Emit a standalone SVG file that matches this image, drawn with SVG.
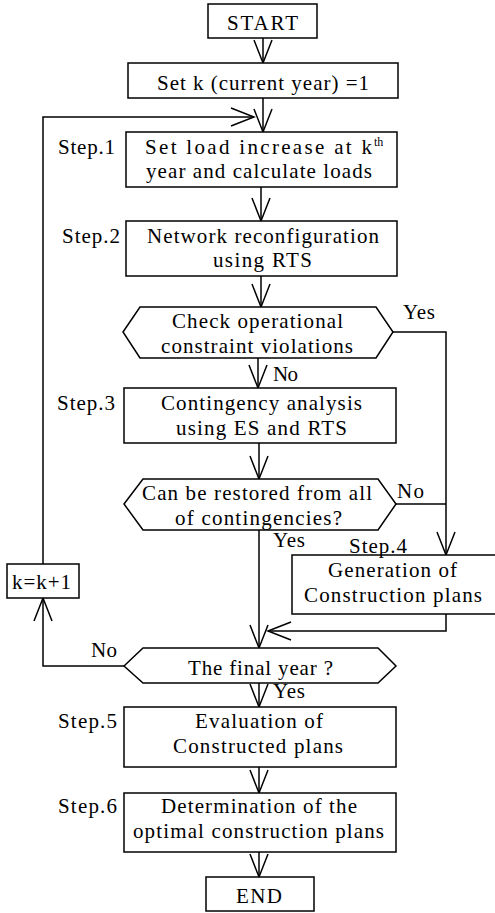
<svg xmlns="http://www.w3.org/2000/svg" width="495" height="913" viewBox="0 0 495 913">
<style>
.b{fill:#fff;stroke:#000;stroke-width:1.5}
.c{fill:none;stroke:#000;stroke-width:1.5}
.t text{font-size:21px;fill:#000}
</style>
<defs>
<marker id="a" viewBox="-26 -12 30 24" markerWidth="30" markerHeight="24" refX="0" refY="0" orient="auto" markerUnits="userSpaceOnUse">
<path d="M-23,-9 L0,0 L-23,9" fill="none" stroke="#000" stroke-width="1.5"/>
</marker>
</defs>
<rect width="495" height="913" fill="#fff"/>
<g class="t" font-family="'Liberation Serif', 'DejaVu Serif', serif">
<g id="connectors">
<path class="c" d="M263,38 V63" marker-end="url(#a)"/>
<path class="c" d="M263,98 V132" marker-end="url(#a)"/>
<path class="c" d="M43,564 V117 H254" marker-end="url(#a)"/>
<path class="c" d="M261,187 V221" marker-end="url(#a)"/>
<path class="c" d="M261,276 V307" marker-end="url(#a)"/>
<path class="c" d="M258,358 V388" marker-end="url(#a)"/>
<path class="c" d="M393,332 H446 V555" marker-end="url(#a)"/>
<path class="c" d="M259,443 V479" marker-end="url(#a)"/>
<path class="c" d="M396,504 H446"/>
<path class="c" d="M259,530 V648" marker-end="url(#a)"/>
<path class="c" d="M446,614 V631 H268" marker-end="url(#a)"/>
<path class="c" d="M124,666 H43 V598" marker-end="url(#a)"/>
<path class="c" d="M259,683 V707" marker-end="url(#a)"/>
<path class="c" d="M259,767 V793" marker-end="url(#a)"/>
<path class="c" d="M259,852 V877" marker-end="url(#a)"/>
<text x="403" y="319" textLength="32" lengthAdjust="spacing">Yes</text>
<text x="273" y="381" textLength="25" lengthAdjust="spacing">No</text>
<text x="397" y="498" textLength="27" lengthAdjust="spacing">No</text>
<text x="273" y="547" textLength="32" lengthAdjust="spacing">Yes</text>
<text x="91" y="657" textLength="26" lengthAdjust="spacing">No</text>
<text x="273" y="698" textLength="32" lengthAdjust="spacing">Yes</text>
</g>
<g id="start">
<rect class="b" x="208" y="4" width="109" height="34"/>
<text x="227" y="30" textLength="71" lengthAdjust="spacing">START</text>
</g>
<g id="setk">
<rect class="b" x="128" y="63" width="270" height="35"/>
<text x="157" y="90" textLength="212" lengthAdjust="spacing">Set k (current year) =1</text>
</g>
<g id="step1">
<rect class="b" x="126" y="132" width="271" height="55"/>
<text x="58" y="154" textLength="57" lengthAdjust="spacing">Step.1</text>
<text x="145" y="154" textLength="227" lengthAdjust="spacing">Set load increase at k</text>
<text x="374" y="146" style="font-size:12px">th</text>
<text x="146" y="178" textLength="226" lengthAdjust="spacing">year and calculate loads</text>
</g>
<g id="step2">
<rect class="b" x="126" y="221" width="271" height="55"/>
<text x="62" y="243" textLength="58" lengthAdjust="spacing">Step.2</text>
<text x="147" y="243" textLength="232" lengthAdjust="spacing">Network reconfiguration</text>
<text x="213" y="267" textLength="99" lengthAdjust="spacing">using RTS</text>
</g>
<g id="check">
<polygon class="b" points="123,332 140,307 376,307 393,332 376,358 140,358"/>
<text x="172" y="328" textLength="171" lengthAdjust="spacing">Check operational</text>
<text x="161" y="353" textLength="192" lengthAdjust="spacing">constraint violations</text>
</g>
<g id="step3">
<rect class="b" x="124" y="388" width="272" height="55"/>
<text x="57" y="410" textLength="58" lengthAdjust="spacing">Step.3</text>
<text x="161" y="410" textLength="201" lengthAdjust="spacing">Contingency analysis</text>
<text x="176" y="435" textLength="171" lengthAdjust="spacing">using ES and RTS</text>
</g>
<g id="restore">
<polygon class="b" points="124,504 143,479 378,479 396,504 378,530 143,530"/>
<text x="142" y="500" textLength="230" lengthAdjust="spacing">Can be restored from all</text>
<text x="175" y="525" textLength="167" lengthAdjust="spacing">of contingencies?</text>
</g>
<g id="step4">
<rect class="b" x="292" y="555" width="210" height="59"/>
<text x="349" y="553" textLength="58" lengthAdjust="spacing">Step.4</text>
<text x="328" y="577" textLength="129" lengthAdjust="spacing">Generation of</text>
<text x="304" y="602" textLength="178" lengthAdjust="spacing">Construction plans</text>
</g>
<g id="kinc">
<rect class="b" x="7" y="564" width="72" height="34"/>
<text x="12" y="589" textLength="59" lengthAdjust="spacing">k=k+1</text>
</g>
<g id="final">
<polygon class="b" points="124,666 143,648 378,648 396,666 378,683 143,683"/>
<text x="188" y="675" textLength="145" lengthAdjust="spacing">The final year ?</text>
</g>
<g id="step5">
<rect class="b" x="124" y="707" width="272" height="60"/>
<text x="58" y="728" textLength="59" lengthAdjust="spacing">Step.5</text>
<text x="195" y="728" textLength="128" lengthAdjust="spacing">Evaluation of</text>
<text x="173" y="753" textLength="170" lengthAdjust="spacing">Constructed plans</text>
</g>
<g id="step6">
<rect class="b" x="124" y="793" width="272" height="59"/>
<text x="58" y="813" textLength="59" lengthAdjust="spacing">Step.6</text>
<text x="161" y="813" textLength="196" lengthAdjust="spacing">Determination of the</text>
<text x="133" y="838" textLength="251" lengthAdjust="spacing">optimal construction plans</text>
</g>
<g id="end">
<rect class="b" x="206" y="877" width="108" height="34"/>
<text x="236" y="903" textLength="46" lengthAdjust="spacing">END</text>
</g>
</g>
</svg>
